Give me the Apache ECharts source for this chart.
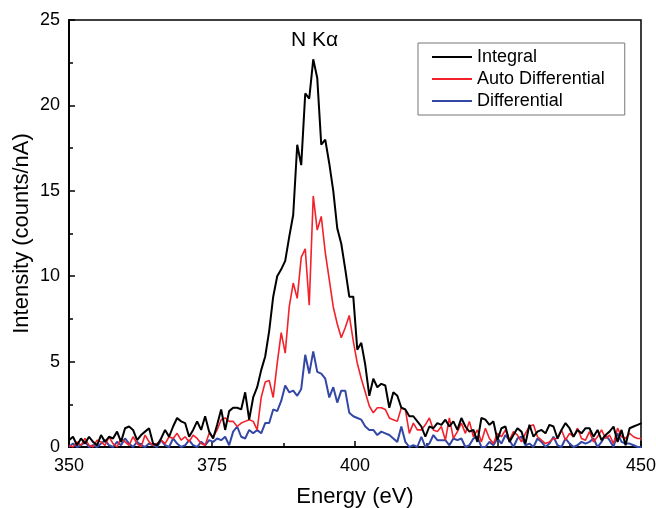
<!DOCTYPE html>
<html><head><meta charset="utf-8">
<script src="https://cdn.jsdelivr.net/npm/echarts@6/dist/echarts.min.js"></script>
<style>html,body{margin:0;padding:0;background:#fff}#c{width:656px;height:508px}</style>
</head><body><div id="c"></div>
<script>
var energy = [350,350.7,351.4,352.1,352.8,353.5,354.2,354.9,355.6,356.3,
357,357.7,358.4,359.1,359.8,360.5,361.2,361.9,362.6,363.3,
364,364.7,365.4,366.1,366.8,367.5,368.2,368.9,369.6,370.3,
371,371.7,372.4,373.1,373.8,374.5,375.2,375.9,376.6,377.3,
378,378.7,379.4,380.1,380.8,381.5,382.2,382.9,383.6,384.3,
385,385.7,386.4,387.1,387.8,388.5,389.2,389.9,390.6,391.3,
392,392.7,393.4,394.1,394.8,395.5,396.2,396.9,397.6,398.3,
399,399.7,400.4,401.1,401.8,402.5,403.2,403.9,404.6,405.3,
406,406.7,407.4,408.1,408.8,409.5,410.2,410.9,411.6,412.3,
413,413.7,414.4,415.1,415.8,416.5,417.2,417.9,418.6,419.3,
420,420.7,421.4,422.1,422.8,423.5,424.2,424.9,425.6,426.3,
427,427.7,428.4,429.1,429.8,430.5,431.2,431.9,432.6,433.3,
434,434.7,435.4,436.1,436.8,437.5,438.2,438.9,439.6,440.3,
441,441.7,442.4,443.1,443.8,444.5,445.2,445.9,446.6,447.3,
448,448.7,449.4,450.1];
var integral = [0.4,0.6,0.1,0.5,0.2,0.6,0.3,0.1,0.7,0.3,
0.6,0.5,0.9,0.3,1.1,1.2,1.0,0.4,0.7,0.9,
1.1,0.2,0.1,0.5,1.0,0.6,1.2,1.7,1.5,1.4,
0.6,1.0,1.5,1.0,1.8,0.9,0.5,1.3,2.2,1.0,
2.1,2.3,2.3,2.2,3.2,1.6,2.9,3.5,4.5,5.3,
6.8,8.8,10.0,10.4,10.9,12.3,13.6,17.7,16.5,20.7,
20.4,22.7,21.6,17.7,18.0,16.6,15.0,12.8,11.9,10.4,
8.8,8.8,5.7,6.1,4.8,3.0,4.0,3.5,3.7,3.6,
2.3,3.2,3.0,2.3,2.2,1.8,1.8,1.5,1.2,0.6,
1.2,1.1,1.4,1.3,1.6,1.2,1.5,1.0,1.7,1.2,
0.9,1.0,0.3,1.7,1.6,1.3,1.5,0.4,1.1,1.2,
0.3,0.7,1.1,0.9,0.2,1.3,0.6,0.9,1.0,0.8,
1.3,1.2,0.5,1.0,1.4,1.1,0.6,1.0,0.8,1.1,
1.1,0.6,1.0,0.4,0.7,0.9,1.2,0.3,1.0,0.1,
1.1,1.2,1.3,1.4];
var autoDifferential = [0.1,0.0,0.3,0.1,0.5,0.1,0.0,0.4,0.3,0.1,
0.6,0.2,0.0,0.5,0.3,0.1,0.6,0.2,0.0,0.7,
0.3,0.1,0.2,0.4,0.2,0.6,0.5,0.8,0.4,0.6,
0.3,0.7,0.5,0.2,0.1,0.8,0.6,1.0,1.6,1.7,
1.5,1.5,1.2,1.4,1.5,1.6,1.5,1.0,2.9,3.8,
3.9,2.9,4.9,6.7,5.5,8.2,9.6,8.7,11.1,11.6,
8.3,14.7,12.7,13.5,11.4,9.8,8.2,7.2,6.4,7.0,
7.7,6.2,4.9,4.0,3.2,2.4,2.0,2.3,2.3,2.2,
1.7,1.6,1.5,2.3,2.2,0.8,1.4,1.0,1.0,1.3,
1.7,1.0,0.9,1.2,0.4,1.7,0.5,0.9,1.4,0.8,
1.5,0.6,1.0,0.3,1.1,0.5,0.2,0.8,0.6,1.0,
0.4,0.9,0.7,0.3,0.8,1.2,1.3,0.6,0.4,0.2,
0.3,0.5,0.5,1.0,0.4,0.8,0.6,1.1,0.5,0.4,
0.9,0.3,0.6,1.0,0.5,0.7,0.2,1.1,0.6,0.5,
0.8,0.6,0.5,0.5];
var differential = [0.0,0.2,0.0,0.1,0.3,0.0,0.1,0.0,0.2,0.4,
0.1,0.0,0.3,0.1,0.5,0.2,0.0,0.3,0.1,0.0,
0.2,0.1,0.0,0.4,0.1,0.0,0.5,0.2,0.0,0.1,
0.4,0.1,0.0,0.3,0.1,0.4,0.3,0.5,0.4,0.6,
0.1,0.9,1.2,0.6,0.5,1.0,0.8,1.0,0.8,1.4,
1.4,2.2,2.1,2.7,3.6,3.2,3.3,3.0,3.4,5.4,
4.3,5.6,4.4,4.3,4.0,2.9,3.5,2.6,3.3,3.3,
2.0,1.8,1.7,1.6,1.2,1.0,1.0,0.7,0.9,0.8,
0.7,0.5,0.3,1.2,0.3,0.0,0.1,0.0,0.6,0.0,
0.2,0.7,0.4,0.4,0.4,0.1,0.5,0.4,0.5,0.0,
0.1,0.5,0.6,0.0,0.0,0.3,0.1,0.5,0.2,0.7,
0.4,0.0,0.5,0.6,0.1,0.2,0.0,0.5,0.3,0.0,
0.2,0.6,0.1,0.0,0.5,0.2,0.0,0.1,0.3,0.2,
0.3,0.5,0.0,0.3,0.7,0.4,0.0,0.8,0.3,0.2,
0.2,0.1,0.0,0.0];
var seriesNames = ['Integral','Auto Differential','Differential'];
var seriesColors = ['#000000','#f2212a','#3347a5'];
var xTicks = [350,375,400,425,450];
var yTicks = [0,5,10,15,20,25];

function pairs(v){ return energy.map(function(e,i){ return [e, v[i]]; }); }
var FONT = '"Liberation Sans", Arial, sans-serif';
var chart = echarts.init(document.getElementById('c'), null, {renderer:'canvas'});
var values = [integral, autoDifferential, differential];
var widths = [2, 1.6, 2];
chart.setOption({
  animation:false,
  backgroundColor:'#fff',
  textStyle:{fontFamily:FONT},
  title:{text:'N K\u03b1', left:291, top:30, padding:0, textStyle:{fontFamily:FONT, fontSize:21, fontWeight:'normal', color:'#000'}},
  grid:{left:69, right:15, top:20, bottom:61, outerBoundsMode:'none', containLabel:false, show:true, borderColor:'#000', borderWidth:1.5, backgroundColor:'transparent'},
  legend:{
    orient:'vertical', left:418, top:43, data:seriesNames,
    icon:'rect', itemWidth:40, itemHeight:2, itemGap:4,
    padding:[5,20,5,14], borderColor:'#777', borderWidth:1, backgroundColor:'#fff',
    textStyle:{fontFamily:FONT, fontSize:18, color:'#000'}
  },
  xAxis:{
    type:'value', min:xTicks[0], max:xTicks[xTicks.length-1], interval:25,
    name:'Energy (eV)', nameLocation:'middle', nameGap:39, nameMoveOverlap:false,
    nameTextStyle:{fontFamily:FONT, fontSize:22, color:'#000'},
    axisLine:{show:true, onZero:false, lineStyle:{color:'#000', width:2}},
    axisTick:{show:true, inside:true, length:6, lineStyle:{color:'#000', width:1.5}},
    minorTick:{show:true, splitNumber:2, length:4, lineStyle:{color:'#000', width:1.5}},
    axisLabel:{fontFamily:FONT, fontSize:18, color:'#000', margin:10},
    splitLine:{show:false}
  },
  yAxis:{
    type:'value', min:yTicks[0], max:yTicks[yTicks.length-1], interval:5,
    name:'Intensity (counts/nA)', nameLocation:'middle', nameGap:36, nameMoveOverlap:false,
    nameTextStyle:{fontFamily:FONT, fontSize:22, color:'#000'},
    axisLine:{show:true, lineStyle:{color:'#000', width:2}},
    axisTick:{show:true, inside:true, length:6, lineStyle:{color:'#000', width:1.5}},
    minorTick:{show:true, splitNumber:2, length:4, lineStyle:{color:'#000', width:1.5}},
    axisLabel:{fontFamily:FONT, fontSize:18, color:'#000', margin:9},
    splitLine:{show:false}
  },
  series: seriesNames.map(function(n,k){
    return {name:n, type:'line', data:pairs(values[k]), showSymbol:false, symbol:'none',
      clip:true, z:10-k, color:seriesColors[k],
      lineStyle:{color:seriesColors[k], width:widths[k]}, itemStyle:{color:seriesColors[k]}};
  })
});
</script></body></html>
